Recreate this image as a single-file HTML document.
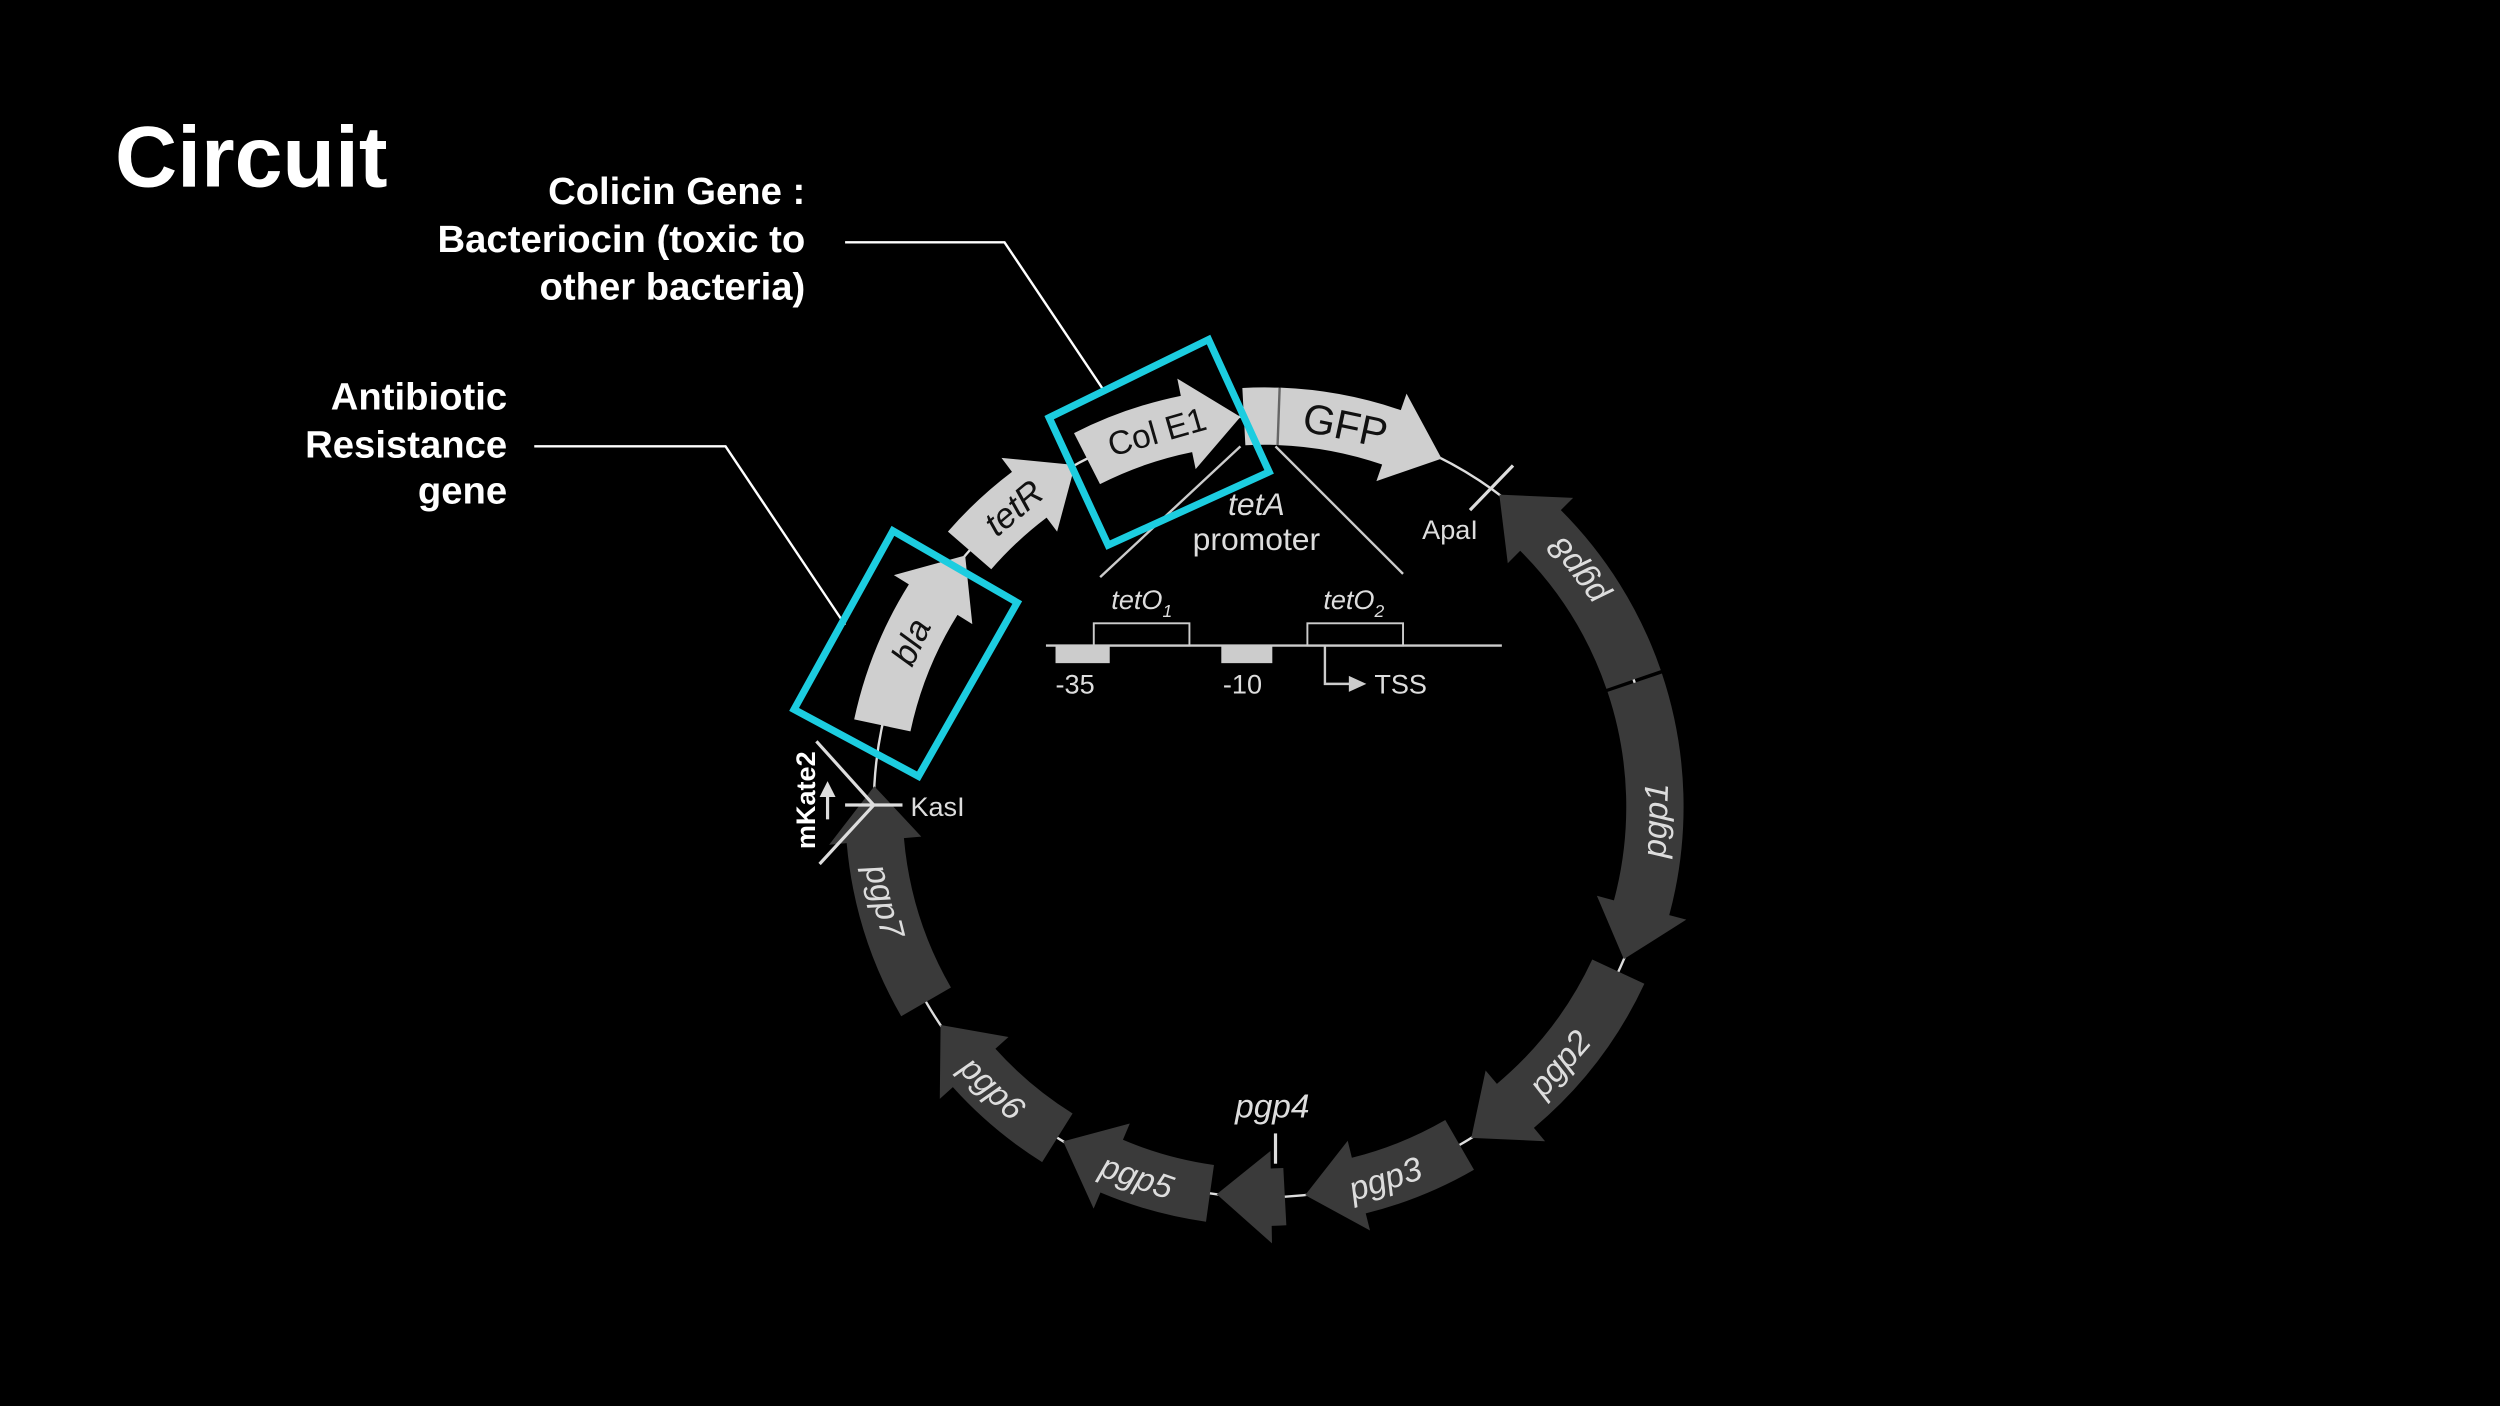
<!DOCTYPE html>
<html><head><meta charset="utf-8"><style>
html,body{margin:0;padding:0;background:#000;width:2500px;height:1406px;overflow:hidden}
svg{display:block}
text{font-family:"Liberation Sans",sans-serif}
</style></head><body>
<svg id="s" width="2500" height="1406" viewBox="0 0 1568 882" xmlns="http://www.w3.org/2000/svg">
<rect width="1568" height="882" fill="#000"/>
<text x="72" y="117" font-size="54" font-weight="bold" fill="#fff">Circuit</text>
<g font-size="24" font-weight="bold" fill="#fff" text-anchor="end">
<text x="505" y="128">Colicin Gene :</text>
<text x="505" y="158">Bacteriocin (toxic to</text>
<text x="505" y="188">other bacteria)</text>
<text x="318" y="257">Antibiotic</text>
<text x="318" y="287">Resistance</text>
<text x="318" y="316">gene</text>
</g>
<polyline points="530,152 630,152 693,246" fill="none" stroke="#fff" stroke-width="1.5"/>
<polyline points="335,280 455,280 530,392" fill="none" stroke="#fff" stroke-width="1.5"/>
<circle cx="793" cy="506" r="245" fill="none" stroke="#ddd" stroke-width="1.5"/>
<g id="arrows"></g>
<g stroke="#ccc" stroke-width="1.5" fill="none">
<line x1="778" y1="280" x2="690" y2="362"/>
<line x1="800" y1="280" x2="880" y2="360"/>
<line x1="656" y1="405" x2="942" y2="405"/>
<rect x="686" y="391" width="60" height="14" stroke-width="1.2"/>
<rect x="820" y="391" width="60" height="14" stroke-width="1.2"/>
<polyline points="831,405 831,429 848,429"/>
</g>
<polygon points="846,424 857,429 846,434" fill="#ccc"/>
<rect x="662" y="405" width="34" height="11" fill="#ccc"/>
<rect x="766" y="405" width="32" height="11" fill="#ccc"/>
<g fill="#ddd" font-size="20" text-anchor="middle">
<text x="788" y="323" font-style="italic">tetA</text>
<text x="788" y="345">promoter</text>
</g>
<g fill="#ddd" font-size="17">
<text x="697" y="382" font-style="italic">tetO<tspan font-size="11" dy="5">1</tspan></text>
<text x="830" y="382" font-style="italic">tetO<tspan font-size="11" dy="5">2</tspan></text>
<text x="662" y="435">-35</text>
<text x="767" y="435">-10</text>
<text x="862" y="435">TSS</text>
<text x="892" y="338">ApaI</text>
<text x="571" y="512">KasI</text>
</g>
<text x="798" y="701" fill="#ddd" font-size="21" font-style="italic" text-anchor="middle">pgp4</text>
<line x1="800" y1="711" x2="800" y2="730" stroke="#ddd" stroke-width="2"/>
<g stroke="#ddd" stroke-width="2">
<line x1="530" y1="505" x2="566" y2="505"/>
<line x1="548" y1="505" x2="512" y2="465"/>
<line x1="548" y1="505" x2="514" y2="542"/>
<line x1="922" y1="320" x2="949" y2="292"/>
<line x1="519" y1="514" x2="519" y2="498"/>
</g>
<polygon points="514,500 519,490 524,500" fill="#ddd"/>
<text transform="translate(511,502) rotate(-90)" fill="#fff" font-size="17" font-weight="bold" text-anchor="middle">mKate2</text>
<g id="labels"></g>
<g fill="none" stroke="#1ccde0" stroke-width="4.5" stroke-linejoin="miter">
<polygon points="498,445 560,333 638,378 576,487"/>
<polygon points="658,262 758,213 796,296 695,342"/>
</g>
</svg>
<script>
var cx=793,cy=506,R=245;
function P(r,a){a=a*Math.PI/180;return (cx+r*Math.sin(a)).toFixed(1)+','+(cy-r*Math.cos(a)).toFixed(1);}
var hw=18,he=11,h=8;
function arr(a0,a1,dir,col){
 var ro=R+hw,ri=R-hw,d;
 if(dir==1){var b=a1-h;d='M'+P(ro,a0)+' A'+ro+','+ro+' 0 0 1 '+P(ro,b)+' L'+P(ro+he,b)+' L'+P(R,a1)+' L'+P(ri-he,b)+' L'+P(ri,b)+' A'+ri+','+ri+' 0 0 0 '+P(ri,a0)+' Z';}
 else if(dir==-1){var b=a0+h;d='M'+P(R,a0)+' L'+P(ro+he,b)+' L'+P(ro,b)+' A'+ro+','+ro+' 0 0 1 '+P(ro,a1)+' L'+P(ri,a1)+' A'+ri+','+ri+' 0 0 0 '+P(ri,b)+' L'+P(ri-he,b)+' Z';}
 else {d='M'+P(ro,a0)+' A'+ro+','+ro+' 0 0 1 '+P(ro,a1)+' L'+P(ri,a1)+' A'+ri+','+ri+' 0 0 0 '+P(ri,a0)+' Z';}
 return '<path d="'+d+'" fill="'+col+'"/>';
}
var L='#cfcfcf',D='#3a3a3a',g='';
g+=arr(-78,-50,1,L)+arr(-49,-29,1,L)+arr(-27,-3.5,1,L)+arr(-3,2,0,L)+arr(2.2,27,1,L);
g+=arr(37,71,-1,D)+arr(71.5,113,1,D)+arr(115,148,1,D)+arr(150,174,1,D)+arr(177,187,1,D)+arr(188,211,1,D)+arr(212,236,1,D)+arr(240,273,1,D);
var pl=P(R+hw,2.1).split(','),pi=P(R-hw,2.1).split(',');
g+='<line x1="'+pl[0]+'" y1="'+pl[1]+'" x2="'+pi[0]+'" y2="'+pi[1]+'" stroke="#666" stroke-width="1.5"/>';
document.getElementById('arrows').innerHTML=g;
</script>
<script>
(function(){
var cx=793,cy=506,R=245;
var labs=[["bla",-65,-65,"#111",22,1],["tetR",-40,-40,"#111",22,1],["Col E1",-16,-16,"#111",21,0],["GFP",12,12,"#111",26,0],
["pgp8",53,-127,"#ddd",21,1],["pgp1",92,-88,"#ddd",21,1],["pgp2",131,-49,"#ddd",21,1],["pgp3",162,-18,"#ddd",21,1],
["pgp5",199,19,"#ddd",21,1],["pgp6",224,44,"#ddd",21,1],["pgp7",256,76,"#ddd",21,1]];
var s='';
labs.forEach(function(l){var a=l[1]*Math.PI/180;var x=cx+R*Math.sin(a),y=cy-R*Math.cos(a);
s+='<text transform="translate('+x.toFixed(1)+','+y.toFixed(1)+') rotate('+l[2]+')" y="'+(l[4]*0.36).toFixed(1)+'" fill="'+l[3]+'" font-size="'+l[4]+'" text-anchor="middle"'+(l[5]?' font-style="italic"':'')+'>'+l[0]+'</text>';});
document.getElementById('labels').innerHTML=s;
})();
</script>
</body></html>
